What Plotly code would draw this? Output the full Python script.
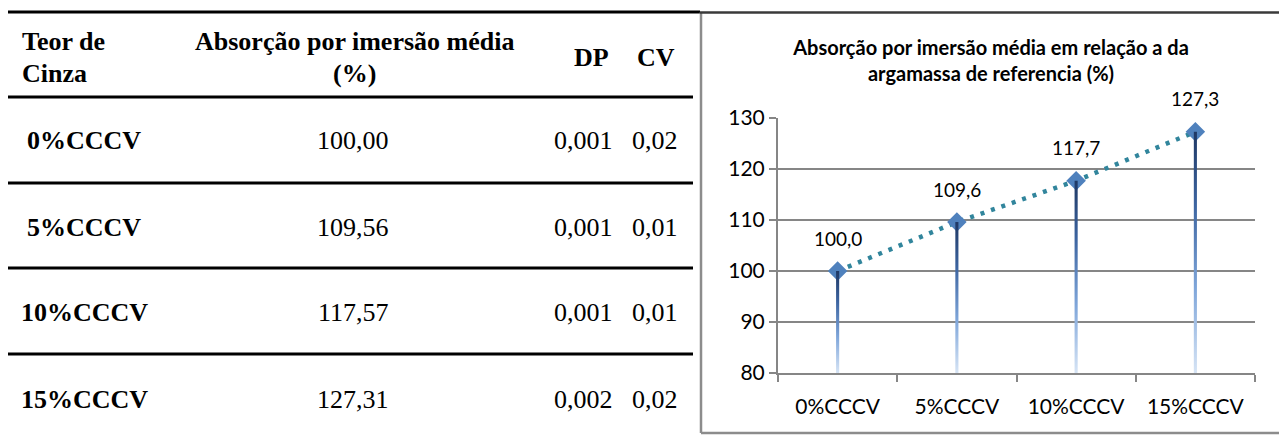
import plotly.graph_objects as go

# ---------------- data ----------------
categories = ["0%CCCV", "5%CCCV", "10%CCCV", "15%CCCV"]
# table values
absorcao = [100.00, 109.56, 117.57, 127.31]
dp = [0.001, 0.001, 0.001, 0.002]
cv = [0.02, 0.01, 0.01, 0.02]
# chart values (relative to reference mortar, as labelled on the chart)
relativo = [100.0, 109.6, 117.7, 127.3]
header = [["Teor de", "Cinza"], ["Absorção por imersão média", "(%)"], ["DP"], ["CV"]]
chart_title = "Absorção por imersão média em relação a da<br>argamassa de referencia (%)"
y_ticks = [80, 90, 100, 110, 120, 130]

W, H = 1279, 436


def X(px):
    return px / W


def Y(py):
    return 1 - py / H


def br(v, d):
    return f"{v:.{d}f}".replace(".", ",")


SERIF = "Liberation Serif, Times New Roman, serif"
SANS = "Lato, Carlito, Calibri, sans-serif"
GRID = "#868686"
TFS = 26

fig = go.Figure()

xs = list(range(len(categories)))

# dotted connecting line
fig.add_trace(go.Scatter(
    x=xs, y=relativo, mode="lines",
    line=dict(color="#31859C", width=4.5, dash="4px,7px"),
    hoverinfo="skip", showlegend=False,
))

# diamond markers
fig.add_trace(go.Scatter(
    x=xs, y=relativo, mode="markers",
    marker=dict(symbol="diamond", size=15, color="#4F81BD", line=dict(width=0)),
    showlegend=False,
))

# gradient drop lines from the base of the axis to each point
hw = 0.013
for i, v in zip(xs, relativo):
    fig.add_trace(go.Scatter(
        x=[i - hw, i + hw, i + hw, i - hw, i - hw],
        y=[y_ticks[0], y_ticks[0], v, v, y_ticks[0]],
        mode="lines", fill="toself", line=dict(width=0),
        fillcolor="#4F81BD",
        fillgradient=dict(type="vertical", start=y_ticks[0], stop=v,
                          colorscale=[[0, "#D6E4F5"], [0.35, "#7FA6DA"],
                                      [0.7, "#3C64A0"], [1, "#1F3864"]]),
        hoverinfo="skip", showlegend=False,
    ))

# data labels
for i, v in zip(xs, relativo):
    fig.add_annotation(x=i, y=v, xref="x", yref="y", text=br(v, 1),
                       showarrow=False, yshift=33,
                       font=dict(family=SANS, size=19, color="#000000"))

# ---------------- table (left) ----------------
shapes = []
line_ys = [12, 97, 183, 268, 354]
for k, ly in enumerate(line_ys):
    shapes.append(dict(type="line", xref="paper", yref="paper",
                       x0=X(8), x1=X(700 if k == 0 else 693), y0=Y(ly), y1=Y(ly),
                       line=dict(color="#000000", width=3)))

# chart border
shapes.append(dict(type="line", xref="paper", yref="paper",
                   x0=X(701), x1=X(701), y0=Y(12), y1=Y(433),
                   line=dict(color="#8C8C8C", width=2.5)))
shapes.append(dict(type="line", xref="paper", yref="paper",
                   x0=X(701), x1=X(1279), y0=Y(433), y1=Y(433),
                   line=dict(color="#8C8C8C", width=2.5)))
shapes.append(dict(type="line", xref="paper", yref="paper",
                   x0=X(700), x1=X(1279), y0=Y(12.5), y1=Y(12.5),
                   line=dict(color="#3A3A3A", width=2.5)))

# header
hdr_pos = [(20, "left"), (354, "center"), (591, "center"), (656, "center")]
for lines, (hx, anc) in zip(header, hdr_pos):
    ys = [42, 73] if len(lines) == 2 else [57]
    for txt, hy in zip(lines, ys):
        fig.add_annotation(x=X(hx), y=Y(hy), xref="paper", yref="paper", text=f"<b>{txt}</b>",
                           xanchor=anc, yanchor="middle", align=anc, showarrow=False,
                           font=dict(family=SERIF, size=26, color="#000000"))

row_ys = [140, 227, 312, 399]
for c, a, d, v, ry in zip(categories, absorcao, dp, cv, row_ys):
    cells = [(84, f"<b>{c}</b>"), (353, br(a, 2)), (583, br(d, 3)), (655, br(v, 2))]
    for cx, txt in cells:
        fig.add_annotation(x=X(cx), y=Y(ry), xref="paper", yref="paper", text=txt,
                           xanchor="center", yanchor="middle", showarrow=False,
                           font=dict(family=SERIF, size=TFS, color="#000000"))

fig.update_layout(
    width=W, height=H,
    margin=dict(l=0, r=0, t=0, b=0, pad=0),
    paper_bgcolor="#FFFFFF", plot_bgcolor="#FFFFFF",
    showlegend=False,
    shapes=shapes,
    title=dict(text=f"<b>{chart_title}</b>", x=X(991), xanchor="center",
               y=Y(55), yanchor="middle", yref="container", automargin=False,
               font=dict(family=SANS, size=20, color="#000000")),
    xaxis=dict(
        domain=[X(778), X(1255)], range=[-0.5, 3.5], automargin=False,
        tickmode="array", tickvals=xs, ticktext=categories,
        ticks="", showgrid=False, zeroline=False,
        showline=True, linecolor=GRID, linewidth=2,
        tickfont=dict(family=SANS, size=21, color="#000000"),
        ticklabelstandoff=14,
        minor=dict(tickmode="array", tickvals=[-0.5, 0.5, 1.5, 2.5, 3.5],
                   ticks="outside", ticklen=7, tickwidth=2, tickcolor=GRID, showgrid=False),
        fixedrange=True,
    ),
    yaxis=dict(
        domain=[Y(373), Y(118)], range=[80, 130], automargin=False,
        tickmode="array", tickvals=y_ticks,
        showgrid=True, gridcolor=GRID, gridwidth=2, zeroline=False,
        showline=True, linecolor=GRID, linewidth=2,
        ticks="outside", ticklen=7, tickwidth=2, tickcolor=GRID,
        tickfont=dict(family=SANS, size=21, color="#000000"),
        fixedrange=True,
    ),
)

fig.write_html("out.html", config={"displayModeBar": False},
               post_script="document.body.style.margin='0';document.body.style.overflow='hidden';")
